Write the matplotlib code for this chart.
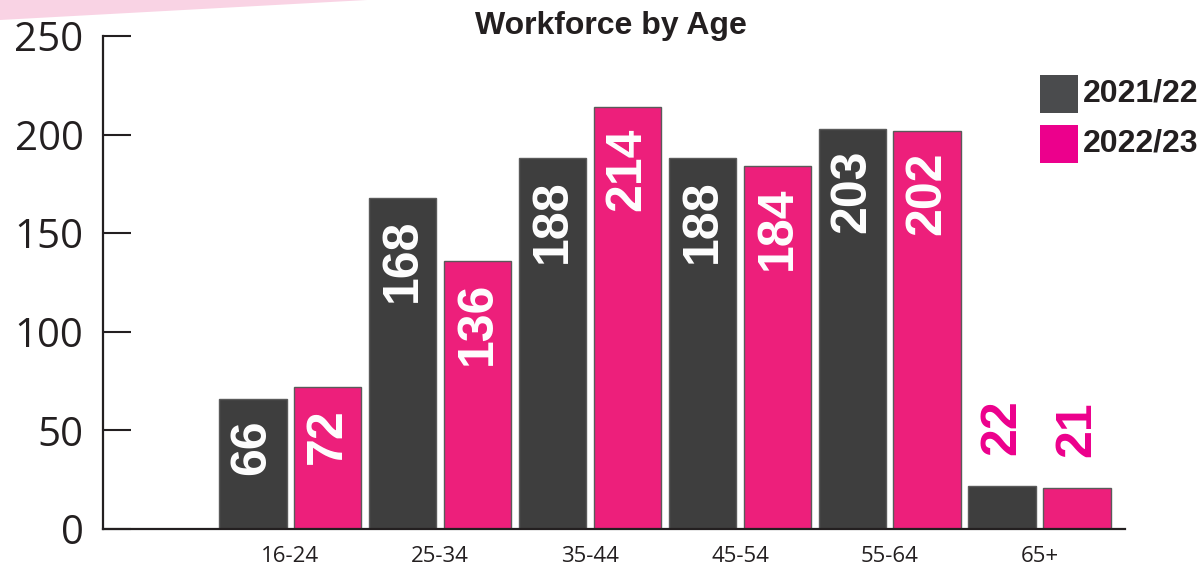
import matplotlib
matplotlib.use("Agg")
import matplotlib.pyplot as plt
from matplotlib.patches import Rectangle, Polygon
import numpy as np

# data
age_groups = ["16-24", "25-34", "35-44", "45-54", "55-64", "65+"]
series_names = ["2021/22", "2022/23"]
values_2122 = [66, 168, 188, 188, 203, 22]
values_2223 = [72, 136, 214, 184, 202, 21]

bar_colors = ["#3e3e3e", "#ed1f7b"]
legend_colors = ["#4a4b4d", "#ec008c"]
label_pink = "#ec008c"
ink = "#231f20"

W, H = 1203, 568
fig = plt.figure(figsize=(W / 100, H / 100), dpi=100)

# pink decoration in the top-left corner
fig.patches.append(Polygon([(0, 1), (367 / W, 1), (0, 1 - 20 / H)], closed=True,
                           transform=fig.transFigure, facecolor="#f9d3e4",
                           edgecolor="none", zorder=0))

ax = fig.add_axes([103 / W, 39 / H, 1022 / W, 493 / H])

x = np.arange(len(age_groups))
width = 0.453
offset = 0.25

label_font = dict(family=["Liberation Sans Narrow", "Liberation Sans"],
                  fontweight="bold", fontsize=36)

for i, (vals, col) in enumerate(zip([values_2122, values_2223], bar_colors)):
    pos = x + (i * 2 - 1) * offset
    ax.bar(pos, vals, width, color=col, edgecolor="#5a5a5a", linewidth=1, zorder=2)
    for p, v in zip(pos, vals):
        if v > 40:
            ax.annotate(str(v), (p, v), xytext=(0, -15), textcoords="offset points",
                        ha="center", va="top", rotation=90, color="white",
                        **label_font)
        else:
            ax.annotate(str(v), (p, v), xytext=(0, 22), textcoords="offset points",
                        ha="center", va="bottom", rotation=90, color=label_pink,
                        **label_font)

ax.set_xlim(-1.247, 5.567)
ax.set_ylim(0, 250)
ax.set_xticks(x)
ax.set_xticklabels(age_groups, family="Open Sans", fontsize=16, color=ink)
ax.set_yticks([0, 50, 100, 150, 200, 250])
ax.set_yticklabels(["0", "50", "100", "150", "200", "250"],
                   family="Open Sans", fontsize=29, color=ink)
ax.tick_params(axis="x", length=0, pad=12)
ax.tick_params(axis="y", direction="in", length=20, width=1.5, color=ink, pad=14)

for s in ["top", "right"]:
    ax.spines[s].set_visible(False)
for s in ["left", "bottom"]:
    ax.spines[s].set_linewidth(1.6)
    ax.spines[s].set_color(ink)

fig.text(611 / W, 1 - 26 / H, "Workforce by Age", ha="center", va="center",
         family="Liberation Sans", fontweight="bold", fontsize=23, color=ink)

# legend
for k, (name, col) in enumerate(zip(series_names, legend_colors)):
    top = 75 + k * 50
    fig.patches.append(Rectangle((1040 / W, 1 - (top + 38) / H), 38 / W, 38 / H,
                                 transform=fig.transFigure, facecolor=col,
                                 edgecolor="none"))
    fig.text(1083 / W, 1 - (top + 19) / H, name, ha="left", va="center",
             family="Liberation Sans", fontweight="bold", fontsize=23, color=ink)

fig.savefig("out.png", dpi=100)
